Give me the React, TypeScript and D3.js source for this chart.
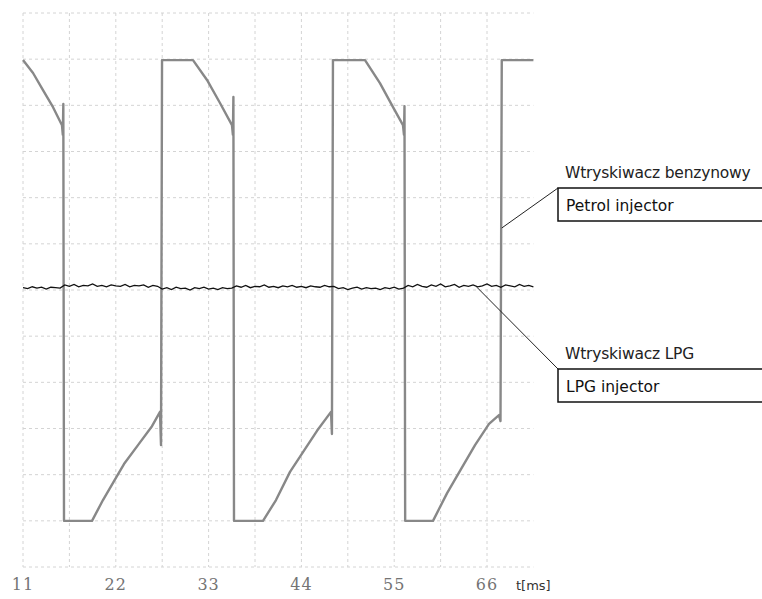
import React from 'react';
import * as d3 from 'd3';

// time axis (ms) and grid
const xTicks = [11, 22, 33, 44, 55, 66];
const xGrid = [11, 16.5, 22, 27.5, 33, 38.5, 44, 49.5, 55, 60.5, 66];
const yGrid = [0, 1, 2, 3, 4, 5, 6, 7, 8, 9, 10, 11, 12];

// petrol injector trace (gray) : time in ms, level in grid divisions
const petrolTime = [
  11.0, 12.19, 13.37, 14.56, 15.62, 15.72, 15.78, 15.86, 19.18, 20.48, 21.79, 22.97, 24.63, 26.29, 27.24, 27.36, 27.48,
  31.15, 32.81, 34.35, 35.77, 35.88, 35.94, 36.01, 39.45, 40.99, 42.65, 44.19, 45.85, 47.51, 47.62, 47.74,
  51.54, 53.31, 54.86, 56.04, 56.16, 56.22, 56.3, 59.6, 61.27, 62.92, 64.58, 66.24, 67.42, 67.6, 67.75, 71.5,
];
const petrolLevel = [
  10.98, 10.7, 10.33, 9.96, 9.57, 9.36, 10.03, 1.0, 1.0, 1.45, 1.86, 2.23, 2.64, 3.05, 3.36, 2.64, 10.98,
  10.98, 10.55, 10.05, 9.57, 9.36, 10.18, 1.0, 1.0, 1.45, 2.06, 2.49, 2.95, 3.36, 2.88, 10.98,
  10.98, 10.48, 9.96, 9.57, 9.36, 9.98, 1.0, 1.0, 1.6, 2.12, 2.64, 3.1, 3.29, 3.16, 10.98, 10.98,
];

// LPG injector trace (black), sampled every 0.55 ms from 11 ms
const lpgStart = 11;
const lpgStep = 0.55;
const lpgLevel = [
  6.05, 6.03, 6.07, 6.04, 6.06, 6.02, 6.06, 6.05, 6.04,
  6.11, 6.08, 6.12, 6.07, 6.10, 6.09, 6.13, 6.08, 6.10, 6.07, 6.11, 6.09, 6.08, 6.12, 6.07, 6.10, 6.09, 6.11, 6.06, 6.10, 6.08,
  6.02, 6.05, 6.01, 6.06, 6.03, 6.04, 6.00, 6.05, 6.03, 6.06, 6.02, 6.04, 6.01, 6.05, 6.03, 6.04,
  6.09, 6.06, 6.10, 6.05, 6.08, 6.07, 6.11, 6.06, 6.08, 6.05, 6.09, 6.07, 6.10, 6.06, 6.08, 6.05, 6.09, 6.07, 6.06, 6.10, 6.07, 6.08,
  6.03, 6.05, 6.01, 6.04, 6.06, 6.02, 6.05, 6.03, 6.04, 6.01, 6.05, 6.03, 6.06, 6.02, 6.04,
  6.10, 6.07, 6.12, 6.08, 6.06, 6.11, 6.08, 6.13, 6.07, 6.09, 6.12, 6.06, 6.10, 6.08, 6.11, 6.07, 6.09, 6.13, 6.08, 6.10, 6.06, 6.11, 6.09, 6.07, 6.12, 6.08, 6.10, 6.07,
];

const labels = {
  petrolPl: 'Wtryskiwacz benzynowy',
  petrolEn: 'Petrol injector',
  lpgPl: 'Wtryskiwacz LPG',
  lpgEn: 'LPG injector',
  unit: 't[ms]',
};

const width = 762;
const height = 599;
const tEnd = 71.5;

const x = d3.scaleLinear().domain([11, 66]).range([23, 487]);
const y = d3.scaleLinear().domain([0, 12]).range([567, 13]);

const petrolData = petrolTime.map((t, i) => [t, petrolLevel[i]] as [number, number]);
const lpgData = lpgLevel.map((v, i) => [lpgStart + i * lpgStep, v] as [number, number]);

const line = d3.line<[number, number]>()
  .x(d => x(d[0]))
  .y(d => y(d[1]));

const sans = '"DejaVu Sans", sans-serif';

function Callout(props: { ax: number; ay: number; bx: number; by: number; title: string; text: string }) {
  const { ax, ay, bx, by, title, text } = props;
  return (
    <g>
      <line x1={ax} y1={ay} x2={bx} y2={by} stroke="#222" strokeWidth={1} />
      <text x={bx + 7} y={by - 10} fontFamily={sans} fontSize={15.5} fill="#222" letterSpacing={-0.2}>{title}</text>
      <rect x={bx} y={by} width={width - bx + 10} height={33} fill="#fff" stroke="#111" strokeWidth={1.5} />
      <text x={bx + 8} y={by + 23} fontFamily={sans} fontSize={15.5} fill="#111">{text}</text>
    </g>
  );
}

export default function App() {
  return (
    <svg width={width} height={height} style={{ position: 'fixed', left: 0, top: 0, background: '#fff' }}>
      <rect width={width} height={height} fill="#fff" />
      <g stroke="#d4d4d4" strokeWidth={1} strokeDasharray="3 3">
        {yGrid.map(v => (
          <line key={'h' + v} x1={x(11)} x2={x(tEnd)} y1={y(v)} y2={y(v)} />
        ))}
        {xGrid.map(t => (
          <line key={'v' + t} x1={x(t)} x2={x(t)} y1={y(12)} y2={y(0)} />
        ))}
      </g>
      <path d={line(petrolData) || ''} fill="none" stroke="#888" strokeWidth={2.4} strokeLinejoin="round" />
      <path d={line(lpgData) || ''} fill="none" stroke="#111" strokeWidth={1.3} strokeLinejoin="miter" />
      <Callout ax={x(67.75)} ay={228} bx={558} by={188} title={labels.petrolPl} text={labels.petrolEn} />
      <Callout ax={x(64.8)} ay={y(6.06)} bx={558} by={369} title={labels.lpgPl} text={labels.lpgEn} />
      {xTicks.map(t => (
        <text key={t} x={x(t)} y={590} textAnchor="middle" fontFamily='"DejaVu Serif", serif' fontSize={16} fill="#747474" letterSpacing={1}>
          {t}
        </text>
      ))}
      <text x={516} y={590} fontFamily={sans} fontSize={13} fill="#333">{labels.unit}</text>
    </svg>
  );
}
